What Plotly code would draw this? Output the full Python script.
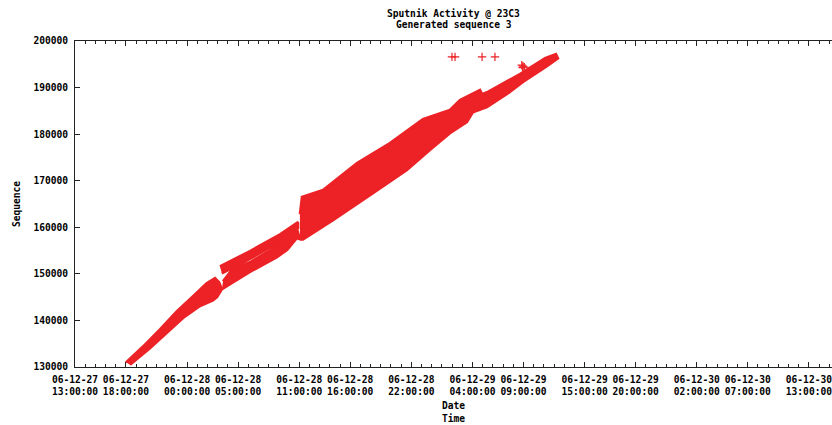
import plotly.graph_objects as go

# ---------------- data ----------------
# Outline of the dense cloud of "+" samples, split in bands.
band_a_time = ["2006-12-27 18:00", "2006-12-27 19:40", "2006-12-27 21:20", "2006-12-27 23:00",
               "2006-12-28 00:35", "2006-12-28 01:55", "2006-12-28 02:44", "2006-12-28 03:08",
               "2006-12-28 03:25", "2006-12-28 02:56", "2006-12-28 02:32", "2006-12-28 01:16",
               "2006-12-27 23:36", "2006-12-27 22:01", "2006-12-27 20:21", "2006-12-27 18:24"]
band_a_seq = [131000, 134400, 138100, 142000,
              145200, 148000, 149100, 148200,
              146700, 145000, 144300, 143100,
              140500, 137300, 134000, 130500]

band_b_time = ["2006-12-28 03:31", "2006-12-28 04:30", "2006-12-28 06:10", "2006-12-28 08:08",
               "2006-12-28 10:47", "2006-12-28 11:04", "2006-12-28 10:47", "2006-12-28 09:48",
               "2006-12-28 08:49", "2006-12-28 06:10", "2006-12-28 03:25"]
band_b_seq = [148400, 151200, 152500, 155100,
              159600, 157400, 157700, 155100,
              153600, 150400, 146700]

band_c_time = ["2006-12-28 03:13", "2006-12-28 06:10", "2006-12-28 09:07", "2006-12-28 10:53",
               "2006-12-28 10:53", "2006-12-28 09:07", "2006-12-28 08:08", "2006-12-28 06:10",
               "2006-12-28 03:25"]
band_c_seq = [151600, 154900, 158500, 161100,
              159800, 157000, 155700, 153200,
              150100]

band_d_time = ["2006-12-28 11:04", "2006-12-28 11:16", "2006-12-28 13:20", "2006-12-28 16:40",
               "2006-12-28 19:54", "2006-12-28 23:08", "2006-12-29 01:47", "2006-12-29 02:46",
               "2006-12-29 04:44", "2006-12-29 04:56", "2006-12-29 05:25", "2006-12-29 08:39",
               "2006-12-29 11:07", "2006-12-29 12:11", "2006-12-29 12:23", "2006-12-29 11:18",
               "2006-12-29 08:57", "2006-12-29 07:23", "2006-12-29 05:25", "2006-12-29 04:02",
               "2006-12-29 03:27", "2006-12-29 01:47", "2006-12-28 23:49", "2006-12-28 21:34",
               "2006-12-28 18:14", "2006-12-28 14:19", "2006-12-28 11:22", "2006-12-28 11:04"]
band_d_seq = [162800, 166500, 168000, 173800,
              178100, 183200, 185200, 187300,
              189500, 188600, 189000, 192900,
              196300, 197200, 196300, 194600,
              191200, 188600, 185800, 184700,
              182600, 180200, 176600, 172300,
              167300, 161500, 157400, 157400]

# isolated samples
outlier_time = ["2006-12-29 01:59", "2006-12-29 02:17", "2006-12-29 04:56", "2006-12-29 06:12",
                "2006-12-29 08:50", "2006-12-29 08:57", "2006-12-29 09:05", "2006-12-29 08:55"]
outlier_seq = [196600, 196600, 196600, 196600,
               194800, 194600, 194400, 194300]

xtick_times = ["2006-12-27 13:00", "2006-12-27 18:00", "2006-12-28 00:00", "2006-12-28 05:00",
               "2006-12-28 11:00", "2006-12-28 16:00", "2006-12-28 22:00", "2006-12-29 04:00",
               "2006-12-29 09:00", "2006-12-29 15:00", "2006-12-29 20:00", "2006-12-30 02:00",
               "2006-12-30 07:00", "2006-12-30 13:00"]
xtick_labels = ["06-12-27<br>13:00:00", "06-12-27<br>18:00:00", "06-12-28<br>00:00:00",
                "06-12-28<br>05:00:00", "06-12-28<br>11:00:00", "06-12-28<br>16:00:00",
                "06-12-28<br>22:00:00", "06-12-29<br>04:00:00", "06-12-29<br>09:00:00",
                "06-12-29<br>15:00:00", "06-12-29<br>20:00:00", "06-12-30<br>02:00:00",
                "06-12-30<br>07:00:00", "06-12-30<br>13:00:00"]
x_range = ["2006-12-27 13:00", "2006-12-30 15:16"]
y_range = [130000, 200000]
title_lines = ["Sputnik Activity @ 23C3", "Generated sequence 3"]

# ---------------- figure ----------------
RED = "#ec2226"
FONT = dict(family="DejaVu Sans Mono", size=9.6, color="#000000", weight="bold")
PLOT_H = 425 - 41 - 58

fig = go.Figure()
for tx, sy in [(band_a_time, band_a_seq), (band_b_time, band_b_seq),
               (band_c_time, band_c_seq), (band_d_time, band_d_seq)]:
    fig.add_trace(go.Scatter(x=tx, y=sy, mode="lines", fill="toself",
                             fillcolor=RED, line=dict(color=RED, width=2.5),
                             hoverinfo="skip", showlegend=False))
fig.add_trace(go.Scatter(x=outlier_time, y=outlier_seq, mode="markers",
                         marker=dict(symbol="cross-thin", size=6,
                                     line=dict(color=RED, width=1.2)),
                         showlegend=False))

# two-line title, centred over the plot area
for i, line in enumerate(title_lines):
    fig.add_annotation(text=line, xref="paper", yref="paper", x=0.5,
                       y=1 + (28 - 11 * i) / PLOT_H, xanchor="center", yanchor="middle",
                       showarrow=False, font=FONT)

fig.update_layout(
    width=832, height=425,
    margin=dict(l=75, r=0, t=41, b=58),
    paper_bgcolor="white", plot_bgcolor="white",
    font=FONT,
    xaxis=dict(type="date", range=x_range, tickmode="array",
               tickvals=xtick_times, ticktext=xtick_labels,
               ticks="inside", ticklen=5, tickcolor="#222222",
               ticklabeloverflow="allow", ticklabelstandoff=3,
               showline=True, linecolor="#222222", linewidth=1, mirror="ticks",
               showgrid=False, zeroline=False, tickfont=FONT,
               minor=dict(tickmode="linear", tick0="2006-12-27 13:00", dtick=3600000,
                          ticks="inside", ticklen=3, tickcolor="#222222", showgrid=False),
               title=dict(text="Date<br>Time", font=FONT, standoff=6)),
    yaxis=dict(range=y_range, dtick=10000, tickformat="d",
               ticks="inside", ticklen=5, tickcolor="#222222",
               ticklabelstandoff=4,
               showline=True, linecolor="#222222", linewidth=1, mirror=False,
               showgrid=False, zeroline=False, tickfont=FONT,
               title=dict(text="Sequence", font=FONT, standoff=11)),
)

fig.write_html("out.html")
